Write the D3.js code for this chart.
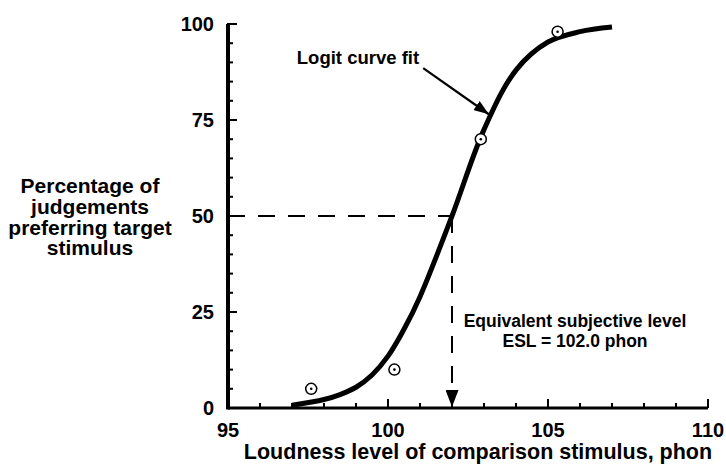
<!DOCTYPE html>
<html>
<head>
<meta charset="utf-8">
<script src="https://cdn.jsdelivr.net/npm/d3@7"></script>
<style>
  html, body { margin: 0; padding: 0; background: #fff; }
  svg text { font-family: "Liberation Sans", Arial, sans-serif; font-weight: bold; fill: #000; }
</style>
</head>
<body>
<div id="chart"></div>
<script>
// Observed judgements (loudness level, % preferring target)
const obsLevel = [97.6, 100.2, 102.9, 105.3];
const obsPercent = [5, 10, 70, 98];

// Logit curve fit
const fitLevel = [97, 98, 98.5, 99, 99.5, 100, 100.5, 101, 102, 103, 104, 105, 106, 107];
const fitPercent = [0.7, 2.2, 3.5, 5.4, 8.6, 13.5, 20.5, 29, 50, 72.5, 88, 95.3, 98, 99.2];

const xTicks = [95, 100, 105, 110];
const yTicks = [0, 25, 50, 75, 100];
const esl = 102.0;

const CONFIG = {
  WIDTH: 726,
  HEIGHT: 464,
  X0: 228, X1: 708,
  Y0: 408, Y1: 24,
  TICK_MAJOR: 9,
  TICK_MINOR: 5,
};

const svg = d3.select('#chart').append('svg')
  .attr('width', CONFIG.WIDTH)
  .attr('height', CONFIG.HEIGHT);

const x = d3.scaleLinear().domain([95, 110]).range([CONFIG.X0, CONFIG.X1]);
const y = d3.scaleLinear().domain([0, 100]).range([CONFIG.Y0, CONFIG.Y1]);

// arrowheads (length x width in px)
const defs = svg.append('defs');
function addHead(id, len, wid) {
  defs.append('marker')
    .attr('id', id)
    .attr('viewBox', `0 0 ${len} ${wid}`)
    .attr('refX', len).attr('refY', wid / 2)
    .attr('markerUnits', 'userSpaceOnUse')
    .attr('markerWidth', len).attr('markerHeight', wid)
    .attr('orient', 'auto')
    .append('path')
    .attr('d', `M0,0 L${len},${wid / 2} L0,${wid} Z`)
    .attr('fill', '#000');
}
addHead('head-esl', 17, 13);
addHead('head-fit', 15, 11);

// minor ticks every 1 phon / 5 %
const xMinor = d3.range(95, 110.01, 1);
const yMinor = d3.range(0, 100.01, 5);

// dashed ESL guides
svg.append('line')
  .attr('x1', x(95)).attr('x2', x(esl))
  .attr('y1', y(50)).attr('y2', y(50))
  .attr('stroke', '#000').attr('stroke-width', 2)
  .attr('stroke-dasharray', '17,13');

svg.append('line')
  .attr('x1', x(esl)).attr('x2', x(esl))
  .attr('y1', y(50)).attr('y2', y(0) - 1)
  .attr('stroke', '#000').attr('stroke-width', 2)
  .attr('stroke-dasharray', '17,13')
  .attr('marker-end', 'url(#head-esl)');

// axes
const g = svg.append('g');

g.selectAll('.xtick')
  .data(xMinor)
  .join('line')
  .attr('x1', d => x(d)).attr('x2', d => x(d))
  .attr('y1', y(0))
  .attr('y2', d => y(0) - (d % 5 === 0 ? CONFIG.TICK_MAJOR : CONFIG.TICK_MINOR))
  .attr('stroke', '#000').attr('stroke-width', 2);

g.selectAll('.ytick')
  .data(yMinor)
  .join('line')
  .attr('y1', d => y(d)).attr('y2', d => y(d))
  .attr('x1', x(95) - 1)
  .attr('x2', d => x(95) + (d % 25 === 0 ? CONFIG.TICK_MAJOR : CONFIG.TICK_MINOR))
  .attr('stroke', '#000').attr('stroke-width', 2);

g.append('line')
  .attr('x1', x(95)).attr('x2', x(110))
  .attr('y1', y(0)).attr('y2', y(0))
  .attr('stroke', '#000').attr('stroke-width', 3);

g.append('line')
  .attr('x1', x(95)).attr('x2', x(95))
  .attr('y1', y(0) + 1.5).attr('y2', y(100))
  .attr('stroke', '#000').attr('stroke-width', 4);

g.selectAll('.xlabel')
  .data(xTicks)
  .join('text')
  .attr('x', d => x(d))
  .attr('y', y(0) + 29)
  .attr('text-anchor', 'middle')
  .attr('font-size', 20)
  .text(d => d);

g.selectAll('.ylabel')
  .data(yTicks)
  .join('text')
  .attr('x', x(95) - 14)
  .attr('y', d => y(d) + 7)
  .attr('text-anchor', 'end')
  .attr('font-size', 20)
  .text(d => d);

// axis titles
svg.append('text')
  .attr('x', 478)
  .attr('y', 459)
  .attr('text-anchor', 'middle')
  .attr('font-size', 21.5)
  .text('Loudness level of comparison stimulus, phon');

const yTitle = ['Percentage of', 'judgements', 'preferring target', 'stimulus'];
svg.append('text')
  .attr('text-anchor', 'middle')
  .attr('font-size', 21)
  .selectAll('tspan')
  .data(yTitle)
  .join('tspan')
  .attr('x', 90)
  .attr('y', (d, i) => 193 + i * 20.8)
  .text(d => d);

// fitted curve
const line = d3.line()
  .x((d, i) => x(fitLevel[i]))
  .y((d, i) => y(fitPercent[i]))
  .curve(d3.curveCatmullRom.alpha(0.5));

svg.append('path')
  .datum(fitLevel)
  .attr('d', line)
  .attr('fill', 'none')
  .attr('stroke', '#000')
  .attr('stroke-width', 5);

// observed points: circle with a dot
const pts = svg.selectAll('.pt')
  .data(obsLevel.map((d, i) => [d, obsPercent[i]]))
  .join('g')
  .attr('transform', d => `translate(${x(d[0])},${y(d[1])})`);

pts.append('circle').attr('r', 5.5)
  .attr('fill', '#fff').attr('stroke', '#000').attr('stroke-width', 1.5);
pts.append('circle').attr('r', 1.3).attr('fill', '#000');

// annotations
svg.append('text')
  .attr('x', x(97.15))
  .attr('y', y(89.5))
  .attr('font-size', 18.5)
  .text('Logit curve fit');

svg.append('line')
  .attr('x1', x(101.1)).attr('y1', y(88.5))
  .attr('x2', x(103.15)).attr('y2', y(76.5))
  .attr('stroke', '#000').attr('stroke-width', 2.2)
  .attr('marker-end', 'url(#head-fit)');

svg.append('text')
  .attr('text-anchor', 'middle')
  .attr('font-size', 17.5)
  .selectAll('tspan')
  .data(['Equivalent subjective level', 'ESL = 102.0 phon'])
  .join('tspan')
  .attr('x', 575)
  .attr('y', (d, i) => 327 + i * 20)
  .text(d => d);
</script>
</body>
</html>
